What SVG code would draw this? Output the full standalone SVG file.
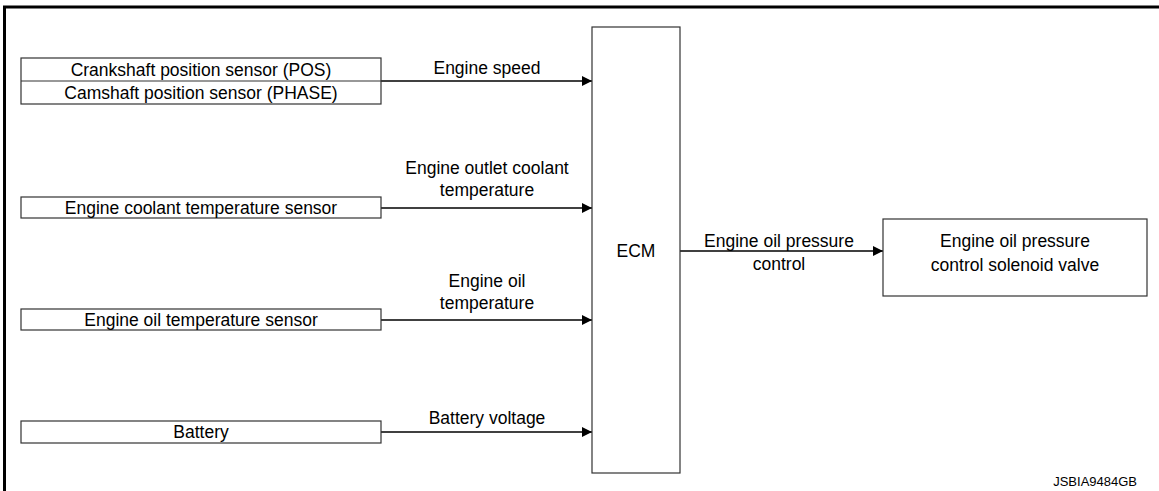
<svg xmlns="http://www.w3.org/2000/svg" width="1159" height="491" viewBox="0 0 1159 491">
<defs>
<style>
.box{fill:#fff;stroke:#333;stroke-width:1.2}
.t{font-family:"Liberation Sans",Arial,sans-serif;font-size:17.5px;fill:#000;text-anchor:middle}
.ln{stroke:#000;stroke-width:1.3;fill:none}
.frame{stroke:#000;stroke-width:3;fill:none}
</style>
<marker id="ah" viewBox="0 0 10 10" refX="10" refY="5" markerWidth="10" markerHeight="10" markerUnits="userSpaceOnUse" orient="auto">
<path d="M0,0 L10,5 L0,10 Z" fill="#000"/>
</marker>
</defs>
<rect width="1159" height="491" fill="#fff"/>
<path class="frame" d="M4.5,491 V7 H1159"/>
<g id="connectors">
<line class="ln" x1="381" y1="81" x2="592" y2="81" marker-end="url(#ah)"/>
<line class="ln" x1="381" y1="208" x2="592" y2="208" marker-end="url(#ah)"/>
<line class="ln" x1="381" y1="320" x2="592" y2="320" marker-end="url(#ah)"/>
<line class="ln" x1="381" y1="432" x2="592" y2="432" marker-end="url(#ah)"/>
<line class="ln" x1="680" y1="251" x2="883" y2="251" marker-end="url(#ah)"/>
<text class="t" x="487" y="74">Engine speed</text>
<text class="t" x="487" y="174">Engine outlet coolant</text>
<text class="t" x="487" y="196">temperature</text>
<text class="t" x="487" y="287">Engine oil</text>
<text class="t" x="487" y="309">temperature</text>
<text class="t" x="487" y="424">Battery voltage</text>
<text class="t" x="779" y="247">Engine oil pressure</text>
<text class="t" x="779" y="270">control</text>
</g>
<g id="crank-cam">
<rect class="box" x="21" y="58" width="360" height="46"/>
<line class="box" x1="21" y1="81" x2="381" y2="81"/>
<text class="t" x="201" y="76">Crankshaft position sensor (POS)</text>
<text class="t" x="201" y="99">Camshaft position sensor (PHASE)</text>
</g>
<g id="coolant-sensor">
<rect class="box" x="21" y="197" width="360" height="21"/>
<text class="t" x="201" y="214">Engine coolant temperature sensor</text>
</g>
<g id="oil-temp-sensor">
<rect class="box" x="21" y="309" width="360" height="21"/>
<text class="t" x="201" y="326">Engine oil temperature sensor</text>
</g>
<g id="battery">
<rect class="box" x="21" y="421" width="360" height="22"/>
<text class="t" x="201" y="438">Battery</text>
</g>
<g id="ecm">
<rect class="box" x="592" y="27" width="88" height="446"/>
<text class="t" x="636" y="257">ECM</text>
</g>
<g id="solenoid">
<rect class="box" x="883" y="219" width="264" height="77"/>
<text class="t" x="1015" y="247">Engine oil pressure</text>
<text class="t" x="1015" y="271">control solenoid valve</text>
</g>
<text x="1137" y="486" style="font-family:'Liberation Sans',Arial,sans-serif;font-size:13px;text-anchor:end">JSBIA9484GB</text>
</svg>
